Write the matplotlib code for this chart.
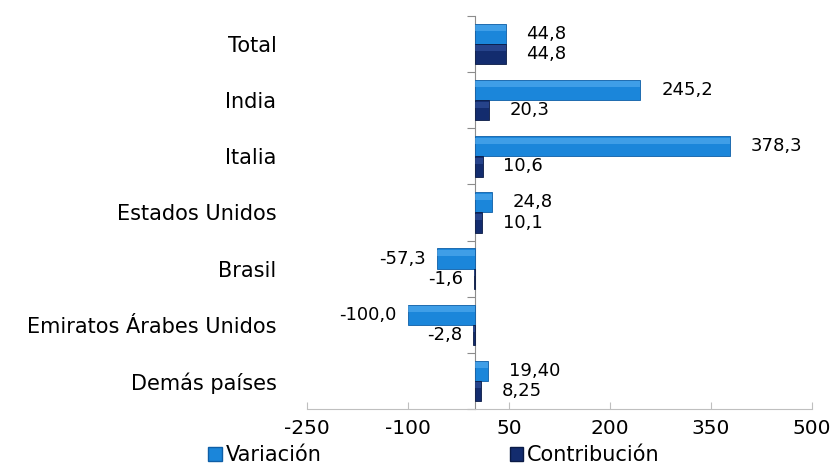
import matplotlib.pyplot as plt
import numpy as np
from matplotlib.patches import Patch

# data
paises = ['Total', 'India', 'Italia', 'Estados Unidos', 'Brasil',
          'Emiratos Árabes Unidos', 'Demás países']
variacion = [44.8, 245.2, 378.3, 24.8, -57.3, -100.0, 19.40]
contribucion = [44.8, 20.3, 10.6, 10.1, -1.6, -2.8, 8.25]
decimales = [1, 1, 1, 1, 1, 1, 2]
xticks = [-250, -100, 50, 200, 350, 500]

azul = '#1B86DA'
azul_claro = '#5DB3F2'
azul_borde = '#0E5EA6'
navy = '#132C6E'
navy_claro = '#3A5BA8'
navy_borde = '#0A1A45'

plt.rcParams['font.family'] = ['DejaVu Sans']

def fmt(v, d):
    return f'{v:.{d}f}'.replace('.', ',')

fig = plt.figure(figsize=(8.35, 4.68), dpi=100)
ax = fig.add_axes([0.3677, 0.126, 0.6048, 0.840])

y = np.arange(len(paises))
h = 0.36
y_var = y - h / 2
y_con = y + h / 2

ax.barh(y_var, variacion, height=h, color=azul, edgecolor=azul_borde, linewidth=0.6, zorder=3)
ax.barh(y_var - h * 0.28, variacion, height=h * 0.3, color=azul_claro, alpha=0.55,
        linewidth=0, zorder=4)
ax.barh(y_con, contribucion, height=h, color=navy, edgecolor=navy_borde, linewidth=0.6, zorder=3)
ax.barh(y_con - h * 0.28, contribucion, height=h * 0.3, color=navy_claro, alpha=0.5,
        linewidth=0, zorder=4)

# data labels
for yy, vals in ((y_var, variacion), (y_con, contribucion)):
    for yi, v, d in zip(yy, vals, decimales):
        if v >= 0:
            ax.annotate(fmt(v, d), (v, yi), xytext=(15, 0), textcoords='offset points',
                        ha='left', va='center', fontsize=13, color='black')
        else:
            ax.annotate(fmt(v, d), (v, yi), xytext=(-8, 0), textcoords='offset points',
                        ha='right', va='center', fontsize=13, color='black')

ax.set_xlim(xticks[0], xticks[-1])
ax.set_ylim(len(paises) - 0.5, -0.5)

ax.set_xticks(xticks)
ax.set_xticklabels([str(t) for t in xticks], fontsize=14.5)
ax.tick_params(axis='x', direction='in', length=5, color='#BFBFBF', pad=7)

ax.set_yticks(y)
ax.set_yticklabels(paises, fontsize=15)
ax.tick_params(axis='y', length=0, pad=22)

for s in ('top', 'right', 'left'):
    ax.spines[s].set_visible(False)
ax.spines['bottom'].set_color('#BFBFBF')

# vertical zero axis with tick marks between categories
x0 = (0 - xticks[0]) / (xticks[-1] - xticks[0])
sec = ax.secondary_yaxis(x0)
sec.set_yticks(np.arange(len(paises) + 1) - 0.5)
sec.set_yticklabels([])
sec.tick_params(direction='out', length=6, color='#8C8C8C')
sec.spines['left'].set_color('#8C8C8C')
sec.spines['right'].set_color('#8C8C8C')

handles = [Patch(facecolor=azul, edgecolor=azul_borde),
           Patch(facecolor=navy, edgecolor=navy_borde)]
fig.legend(handles, ['Variación', 'Contribución'], loc='center',
           bbox_to_anchor=(0.52, 0.028), ncol=2, frameon=False, fontsize=15,
           handlelength=0.65, handleheight=0.65, handletextpad=0.2, columnspacing=9)

fig.savefig('out.png', dpi=100)
